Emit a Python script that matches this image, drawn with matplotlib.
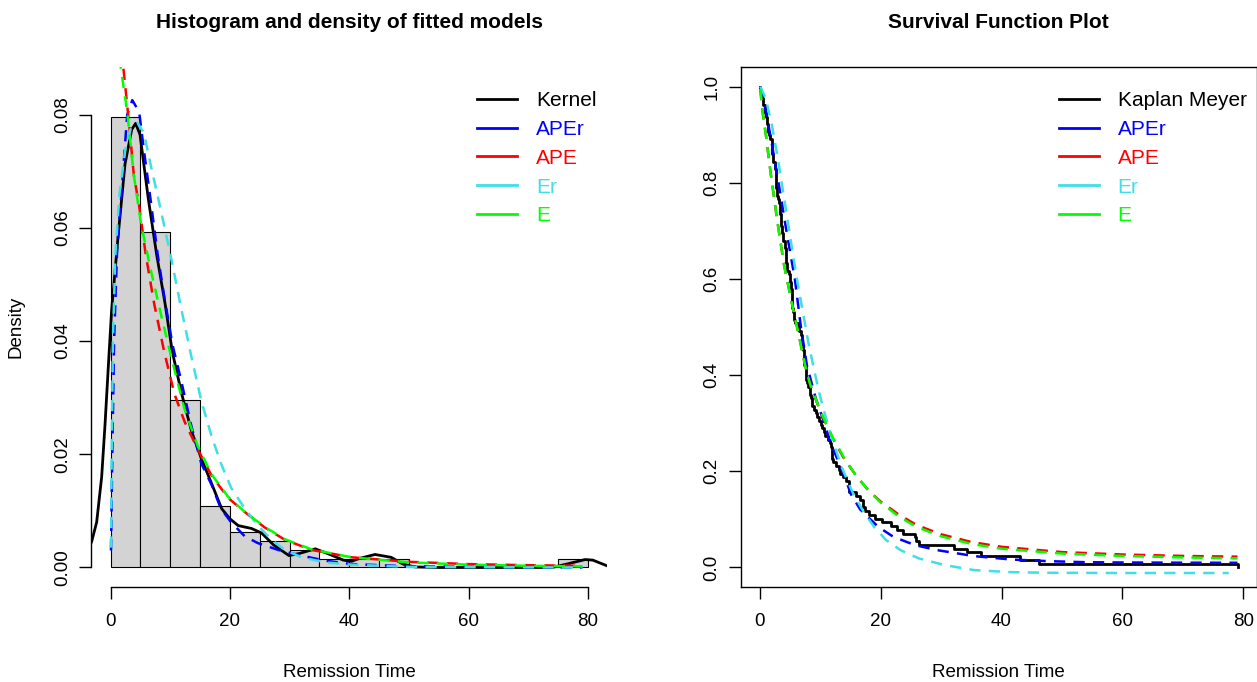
import numpy as np
import matplotlib.pyplot as plt
from matplotlib.lines import Line2D

plt.rcParams['font.family'] = ['Liberation Sans', 'DejaVu Sans']

# remission times of the 128 bladder cancer patients
remission = [0.08, 2.09, 3.48, 4.87, 6.94, 8.66, 13.11, 23.63, 0.20, 2.23, 3.52, 4.98, 6.97, 9.02, 13.29,
             0.40, 2.26, 3.57, 5.06, 7.09, 9.22, 13.80, 25.74, 0.50, 2.46, 3.64, 5.09, 7.26, 9.47, 14.24,
             25.82, 0.51, 2.54, 3.70, 5.17, 7.28, 9.74, 14.76, 26.31, 0.81, 2.62, 3.82, 5.32, 7.32, 10.06,
             14.77, 32.15, 2.64, 3.88, 5.32, 7.39, 10.34, 14.83, 34.26, 0.90, 2.69, 4.18, 5.34, 7.59, 10.66,
             15.96, 36.66, 1.05, 2.69, 4.23, 5.41, 7.62, 10.75, 16.62, 43.01, 1.19, 2.75, 4.26, 5.41, 7.63,
             17.12, 46.12, 1.26, 2.83, 4.33, 5.49, 7.66, 11.25, 17.14, 79.05, 1.35, 2.87, 5.62, 7.87, 11.64,
             17.36, 1.40, 3.02, 4.34, 5.71, 7.93, 11.79, 18.10, 1.46, 4.40, 5.85, 8.26, 11.98, 19.13, 1.76,
             3.25, 4.50, 6.25, 8.37, 12.02, 2.02, 3.31, 4.51, 6.54, 8.53, 12.03, 20.28, 2.02, 3.36, 6.76,
             12.07, 21.73, 2.07, 3.36, 6.93, 8.65, 12.63, 22.69]
bins = list(range(0, 85, 5))

# density curves
kern_x = [-3.4, -3.15, -2.32, -1.48, -0.92, -0.36, 0.19, 1.31, 2.43, 3.55, 4.22, 4.94, 6.34, 7.73, 9.13,
          10.36, 11.92, 13.6, 15.27, 16.95, 18.62, 20.0, 21.4, 23.6, 25.3, 27.3, 29.9, 31.7, 34.3, 37.0,
          39.0, 40.4, 41.7, 44.3, 47.0, 49.0, 51.0, 55.0, 74.0, 76.8, 79.5, 80.8, 83.4]
kern_y = [0.0040, 0.0046, 0.0080, 0.0160, 0.0252, 0.0356, 0.0455, 0.0590, 0.0713, 0.0774, 0.0785, 0.0765,
          0.0651, 0.0553, 0.0467, 0.0381, 0.0307, 0.0240, 0.0191, 0.0148, 0.0104, 0.0086, 0.0074, 0.0069,
          0.0061, 0.0040, 0.0021, 0.0025, 0.0033, 0.0022, 0.0013, 0.0011, 0.0016, 0.0023, 0.0018, 0.0006,
          0.0001, 0.0, 0.0, 0.0007, 0.0014, 0.0013, 0.0002]

aper_x = [0.08, 0.3, 0.6, 1.1, 1.97, 2.8, 3.65, 4.8, 5.6, 6.7, 7.9, 9.0, 10.4, 11.8, 13.5, 15.2, 16.9, 18.5,
          20.2, 22.5, 24.7, 28.1, 31.5, 36.0, 40.4, 50.0, 79.05]
aper_y = [0.003, 0.02, 0.04, 0.056, 0.068, 0.080, 0.0826, 0.0805, 0.0737, 0.0651, 0.0553, 0.0479, 0.0393,
          0.0332, 0.0252, 0.0184, 0.0147, 0.0104, 0.0080, 0.0055, 0.0043, 0.0031, 0.0022, 0.0012, 0.0006,
          0.0002, 0.0]

ape_x = [1.5, 2.25, 3.1, 3.9, 4.8, 5.9, 7.3, 9.0, 10.7, 12.4, 14.6, 16.9, 19.7, 22.5, 25.8, 29.2, 33.7,
         40.4, 50.0, 60.0, 70.0, 79.05]
ape_y = [0.095, 0.0873, 0.0786, 0.0694, 0.0639, 0.0553, 0.0467, 0.0381, 0.0307, 0.0258, 0.0209, 0.0163,
         0.0123, 0.0098, 0.0071, 0.0049, 0.0031, 0.0018, 0.0010, 0.0006, 0.0004, 0.0003]

er_x = [0.1, 0.2, 0.4, 0.8, 1.5, 2.5, 3.5, 4.5, 5.6, 6.7, 8.4, 10.1, 11.8, 13.5, 15.2, 16.9, 18.5, 20.2,
        22.5, 24.7, 27.0, 29.2, 32.0, 36.0, 40.4, 50.0, 79.05]
er_y = [0.0035, 0.02, 0.04, 0.055, 0.066, 0.074, 0.078, 0.0786, 0.0768, 0.0713, 0.0633, 0.0550, 0.0460,
        0.0375, 0.0295, 0.0233, 0.0184, 0.0141, 0.0104, 0.0074, 0.0049, 0.0031, 0.0018, 0.0009, 0.0005,
        0.0001, 0.0]

e_x = [1.0, 1.7, 2.8, 3.9, 5.1, 6.7, 8.4, 10.1, 12.4, 14.6, 16.9, 19.7, 22.5, 25.8, 29.2, 33.7, 40.4,
       50.0, 60.0, 70.0, 79.05]
e_y = [0.097, 0.0885, 0.0805, 0.0694, 0.0608, 0.0528, 0.0450, 0.0375, 0.0280, 0.0215, 0.0165, 0.0125,
       0.0098, 0.0072, 0.0050, 0.0032, 0.0018, 0.0009, 0.0005, 0.0003, 0.0002]

# survival curves
s_aper_x = [0.08, 1.0, 2.0, 3.1, 4.4, 5.8, 6.8, 7.8, 9.27, 10.8, 11.6, 13.7, 15.1, 16.6, 19.6, 22.1, 25.7,
            29.4, 35.5, 41.6, 47.7, 53.8, 60.0, 70.0, 79.05]
s_aper_y = [1.0, 0.95, 0.88, 0.80, 0.70, 0.60, 0.50, 0.42, 0.351, 0.296, 0.262, 0.20, 0.152, 0.121, 0.0845,
            0.0638, 0.0464, 0.036, 0.0236, 0.0166, 0.0132, 0.011, 0.0104, 0.0100, 0.0098]

s_ape_x = [0.08, 0.44, 1.0, 1.8, 2.9, 4.0, 5.3, 6.5, 7.5, 8.35, 10.0, 12.0, 14.0, 16.0, 18.0, 20.0, 23.0,
           26.0, 30.0, 35.0, 40.0, 50.0, 60.0, 70.0, 79.05]
s_ape_y = [0.995, 0.95, 0.90, 0.82, 0.72, 0.63, 0.55, 0.48, 0.42, 0.38, 0.325, 0.27, 0.225, 0.19, 0.16,
           0.137, 0.11, 0.088, 0.069, 0.053, 0.043, 0.032, 0.027, 0.024, 0.0225]

s_er_x = [0.08, 1.0, 2.0, 3.0, 4.0, 5.0, 6.0, 7.0, 8.0, 9.0, 10.0, 11.4, 13.5, 15.4, 17.2, 19.0, 20.9, 23.3,
          26.3, 30.6, 35.5, 41.6, 47.7, 60.0, 77.6]
s_er_y = [1.0, 0.975, 0.92, 0.85, 0.77, 0.69, 0.61, 0.54, 0.47, 0.41, 0.355, 0.29, 0.21, 0.155, 0.115,
          0.083, 0.057, 0.036, 0.019, 0.005, -0.0055, -0.0097, -0.011, -0.0115, -0.0115]

s_e_x = [0.08, 0.44, 1.0, 1.8, 2.9, 4.0, 5.3, 6.5, 7.5, 8.35, 10.0, 12.0, 14.0, 16.0, 18.0, 20.0, 23.0,
         26.0, 30.0, 35.0, 40.0, 50.0, 60.0, 70.0, 79.05]
s_e_y = [0.995, 0.95, 0.90, 0.82, 0.72, 0.63, 0.55, 0.48, 0.42, 0.38, 0.326, 0.272, 0.227, 0.19, 0.16,
         0.135, 0.106, 0.084, 0.065, 0.049, 0.039, 0.029, 0.024, 0.021, 0.019]

left_labels = ['Kernel', 'APEr', 'APE', 'Er', 'E']
right_labels = ['Kaplan Meyer', 'APEr', 'APE', 'Er', 'E']
colors = ['black', '#0000FF', '#FF0000', '#3FDFE6', '#00FF00']

dash = (0, (4.5, 3.3))
lw_fit = 1.8
fs_tick = 13.5
fs_lab = 13.5
fs_leg = 15

fig = plt.figure(figsize=(12.57, 6.82), dpi=100)
ax1 = fig.add_axes([0.07271, 0.1397, 0.41034, 0.7616])
ax2 = fig.add_axes([0.58926, 0.1397, 0.41042, 0.7616])

# left: histogram + densities
ax1.hist(remission, bins=bins, density=True, color='#D3D3D3', edgecolor='black', linewidth=0.8)
ax1.plot(kern_x, kern_y, color='black', lw=2.0)
ax1.plot(aper_x, aper_y, color=colors[1], lw=lw_fit, ls=dash)
ax1.plot(ape_x, ape_y, color=colors[2], lw=lw_fit, ls=dash)
ax1.plot(er_x, er_y, color=colors[3], lw=lw_fit, ls=dash)
ax1.plot(e_x, e_y, color=colors[4], lw=lw_fit, ls=dash)
ax1.set_xlim(-3.2, 83.2)
ax1.set_ylim(-0.0034, 0.0884)
ax1.spines['top'].set_visible(False)
ax1.spines['right'].set_visible(False)
ax1.spines['left'].set_bounds(0, 0.08)
ax1.spines['bottom'].set_bounds(0, 80)
ax1.set_xticks([0, 20, 40, 60, 80])
ax1.set_yticks([0, 0.02, 0.04, 0.06, 0.08])
ax1.set_yticklabels(['0.00', '0.02', '0.04', '0.06', '0.08'], rotation=90, va='center')

# right: survival
ax2.ecdf(remission, complementary=True, color='black', lw=2.0)
ax2.plot(s_aper_x, s_aper_y, color=colors[1], lw=lw_fit, ls=dash)
ax2.plot(s_ape_x, s_ape_y, color=colors[2], lw=lw_fit, ls=dash)
ax2.plot(s_er_x, s_er_y, color=colors[3], lw=lw_fit, ls=dash)
ax2.plot(s_e_x, s_e_y, color=colors[4], lw=lw_fit, ls=dash)
ax2.set_xlim(-3.16, 82.21)
ax2.set_ylim(-0.04, 1.04)
ax2.set_xticks([0, 20, 40, 60, 80])
ax2.set_yticks([0, 0.2, 0.4, 0.6, 0.8, 1.0])
ax2.set_yticklabels(['0.0', '0.2', '0.4', '0.6', '0.8', '1.0'], rotation=90, va='center')

titles = ['Histogram and density of fitted models', 'Survival Function Plot']
for ax, title, labels, lx in [(ax1, titles[0], left_labels, 0.7482), (ax2, titles[1], right_labels, 0.6172)]:
    for sp in ax.spines.values():
        sp.set_linewidth(1.0)
    ax.tick_params(axis='both', direction='out', length=8.4, width=1.0, labelsize=fs_tick)
    ax.tick_params(axis='x', pad=10.6)
    ax.tick_params(axis='y', pad=6)
    ax.text(0.5, 1.0762, title, transform=ax.transAxes, ha='center', va='baseline',
            fontsize=15, fontweight='bold')
    ax.text(0.5, -0.1729, 'Remission Time', transform=ax.transAxes, ha='center', va='baseline',
            fontsize=fs_lab)
    handles = [Line2D([], [], color=c, lw=2.0) for c in colors]
    ax.legend(handles, labels, loc='upper left', bbox_to_anchor=(lx, 0.954), frameon=False,
              borderpad=0, borderaxespad=0, handlelength=1.92, handletextpad=0.89,
              labelspacing=0.47, fontsize=fs_leg, labelcolor=colors)

ax1.text(-0.1456, 0.5, 'Density', transform=ax1.transAxes, rotation=90, ha='center', va='center',
         fontsize=fs_lab)

fig.savefig('out.png', dpi=100)
